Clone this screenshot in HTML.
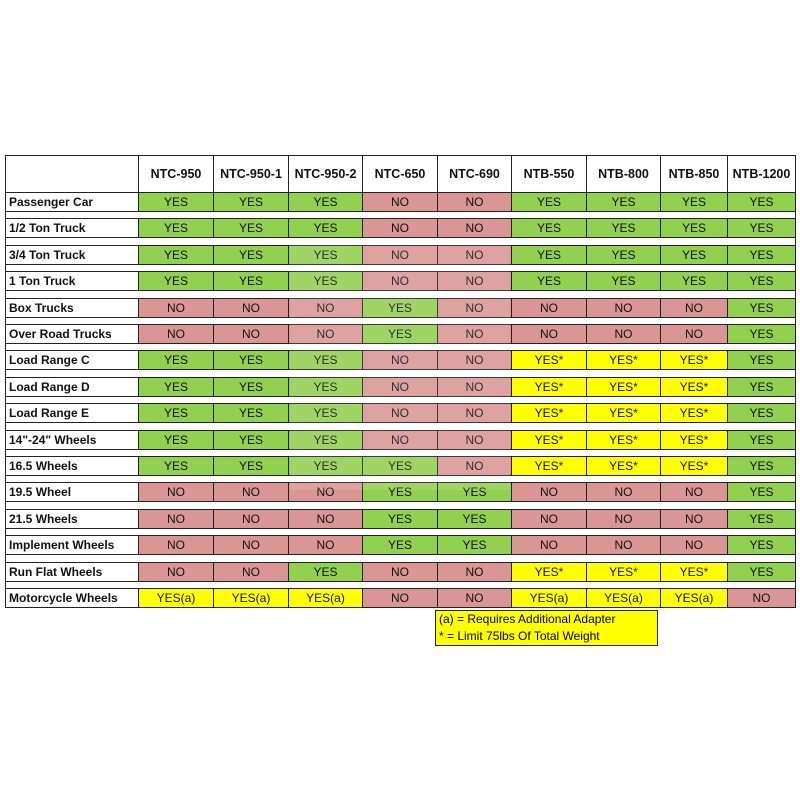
<!DOCTYPE html><html><head><style>
body{margin:0;width:800px;height:800px;background:#fff;position:relative;font-family:"Liberation Sans",sans-serif;overflow:hidden}
.c{position:absolute;box-sizing:border-box;display:flex;align-items:center;justify-content:center;font-size:12px;color:#111;border:1px solid #222}
.l{justify-content:flex-start;padding-left:3px;font-weight:bold}
.h{font-weight:bold;font-size:12.5px}
.G{background:#92d050}.R{background:#da9694}.Y{background:#ffff00}
</style></head><body>
<div id="t"></div>
<script>
const xs=[5,138,213,288,362,437,511,586,660,727,795];
const heads=["","NTC-950","NTC-950-1","NTC-950-2","NTC-650","NTC-690","NTB-550","NTB-800","NTB-850","NTB-1200"];
const rows=[
["Passenger Car","YYYNNYYYY"],["1/2 Ton Truck","YYYNNYYYY"],["3/4 Ton Truck","YYYNNYYYY"],["1 Ton Truck","YYYNNYYYY"],
["Box Trucks","NNNYNNNNY"],["Over Road Trucks","NNNYNNNNY"],["Load Range C","YYYNNSSSY"],["Load Range D","YYYNNSSSY"],
["Load Range E","YYYNNSSSY"],["14\"-24\" Wheels","YYYNNSSSY"],["16.5 Wheels","YYYYNSSSY"],["19.5 Wheel","NNNYYNNNY"],
["21.5 Wheels","NNNYYNNNY"],["Implement Wheels","NNNYYNNNY"],["Run Flat Wheels","NNYNNSSSY"],["Motorcycle Wheels","AAANNAAAN"]];
const P=26.4;
let h='';
for(let i=0;i<10;i++)h+=`<div class="c h" style="left:${xs[i]}px;top:155px;width:${xs[i+1]-xs[i]+1}px;height:38px">${heads[i]}</div>`;
rows.forEach((r,j)=>{const y=192+j*P;
 h+=`<div class="c l" style="left:5px;top:${y}px;width:134px;height:20px">${r[0]}</div>`;
 for(let i=0;i<9;i++){const k=r[1][i];const cls=k=='Y'?'G':k=='N'?'R':'Y';const tx={Y:'YES',N:'NO',S:'YES*',A:'YES(a)'}[k];
 h+=`<div class="c ${cls}" style="left:${xs[i+1]}px;top:${y}px;width:${xs[i+2]-xs[i+1]+1}px;height:20px">${tx}</div>`;}
 if(j<15)h+=`<div class="c" style="left:5px;top:${y+19}px;width:791px;height:${P-18}px"></div>`;
});
h+=`<div style="position:absolute;left:290px;top:240px;width:220px;height:250px;background:rgba(255,255,255,0.12)"></div>`;
h+=`<div style="position:absolute;left:435px;top:610px;width:223px;height:36px;box-sizing:border-box;border:1.5px solid #222;background:#ffff00;font-size:12px;line-height:17px;padding-left:3px">(a) = Requires Additional Adapter<br>* = Limit 75lbs Of Total Weight</div>`;
document.getElementById('t').innerHTML=h;
</script>
</body></html>
